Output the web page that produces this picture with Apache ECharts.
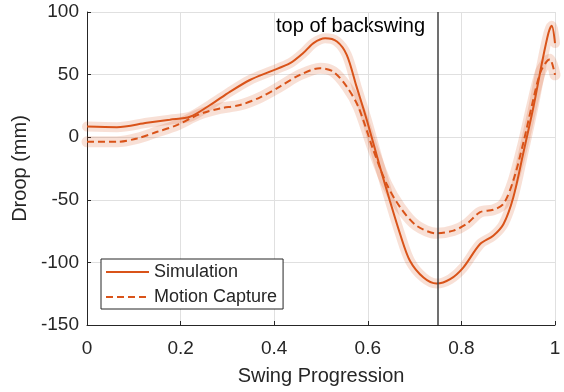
<!DOCTYPE html>
<html>
<head>
<meta charset="utf-8">
<script src="https://cdn.jsdelivr.net/npm/echarts@6/dist/echarts.min.js"></script>
<style>html,body{margin:0;padding:0;background:#fff}#c{width:564px;height:392px}</style>
</head>
<body>
<div id="c"></div>
<script>
const simX = [0, 0.064, 0.128, 0.177, 0.22, 0.263, 0.306, 0.348, 0.391, 0.434, 0.462, 0.484, 0.509, 0.534, 0.555, 0.576, 0.598, 0.626, 0.647, 0.669, 0.69, 0.719, 0.747, 0.776, 0.804, 0.84, 0.868, 0.89, 0.911, 0.932, 0.954, 0.972, 0.986, 0.993, 1.0];
const simY = [8.5, 8, 11.5, 14, 16.3, 25.7, 36.4, 45.7, 52.4, 59.1, 67.2, 75.2, 79, 76.5, 65.8, 40.4, 13.6, -23.8, -50.6, -77.3, -98.7, -112.1, -116.9, -113.4, -104.1, -85.3, -78.7, -69.3, -47.9, -13.1, 24.3, 59.1, 83.2, 89.1, 75.2];
const mocapX = [0, 0.064, 0.107, 0.15, 0.192, 0.228, 0.249, 0.284, 0.327, 0.37, 0.412, 0.455, 0.498, 0.526, 0.555, 0.58, 0.612, 0.64, 0.669, 0.704, 0.747, 0.783, 0.811, 0.84, 0.868, 0.89, 0.911, 0.932, 0.95, 0.968, 0.982, 0.989, 1.0];
const mocapY = [-3.7, -3.7, -1, 4.3, 9.6, 16.3, 19.5, 23, 25.7, 31.8, 40.4, 49.8, 55.1, 52.4, 40.4, 24, -10.4, -37.2, -55.9, -70.6, -76.8, -74.6, -69.3, -59.9, -58, -53.2, -34.5, -5, 24.3, 51.1, 60.4, 62.3, 49.8];
const seriesNames = ['Simulation', 'Motion Capture'];
const topOfBackswing = 0.746;
const xTicks = [0, 0.2, 0.4, 0.6, 0.8, 1];
const yTicks = [-150, -100, -50, 0, 50, 100];

const pair = (xs, ys) => xs.map((x, i) => [x, ys[i]]);
const orange = '#d95319';
const band = 'rgba(217,83,25,0.18)';
const txt = '#262626';
const font = 'Liberation Sans, Arial, sans-serif';

const chart = echarts.init(document.getElementById('c'), null, {renderer: 'canvas'});
chart.setOption({
  animation: false,
  backgroundColor: '#fff',
  grid: {left: 87, right: 9, top: 12, bottom: 67, containLabel: false},
  xAxis: {
    type: 'value', min: xTicks[0], max: xTicks[xTicks.length - 1], interval: 0.2,
    name: 'Swing Progression', nameLocation: 'middle', nameGap: 41,
    nameTextStyle: {fontSize: 20, color: txt, fontFamily: font},
    axisLine: {show: true, onZero: false, lineStyle: {color: txt, width: 1}},
    axisTick: {show: true, inside: true, length: 4, lineStyle: {color: txt}},
    axisLabel: {fontSize: 19, color: txt, fontFamily: font, margin: 14,
      formatter: v => String(Math.round(v * 10) / 10)},
    splitLine: {show: true, lineStyle: {color: '#e0e0e0', width: 1}}
  },
  yAxis: {
    type: 'value', min: yTicks[0], max: yTicks[yTicks.length - 1], interval: 50,
    name: 'Droop (mm)', nameLocation: 'middle', nameGap: 49, nameRotate: 90,
    nameTextStyle: {fontSize: 20, color: txt, fontFamily: font},
    axisLine: {show: true, onZero: false, lineStyle: {color: txt, width: 1}},
    axisTick: {show: true, inside: true, length: 4, lineStyle: {color: txt}},
    axisLabel: {fontSize: 19, color: txt, fontFamily: font, margin: 8},
    splitLine: {show: true, lineStyle: {color: '#e0e0e0', width: 1}}
  },
  legend: {
    data: seriesNames,
    orient: 'vertical', left: 101, top: 259,
    itemWidth: 43, itemHeight: 14, itemGap: 7,
    padding: [4, 6, 3, 4],
    itemStyle: {opacity: 0},
    borderColor: txt, borderWidth: 1, backgroundColor: '#fff',
    textStyle: {fontSize: 18, color: txt, fontFamily: font}
  },
  graphic: [{
    type: 'text', right: 564 - 425, top: 16,
    style: {text: 'top of backswing', fontSize: 20, fill: '#000', fontFamily: font}
  }],
  series: [
    {type: 'line', name: 'simBand', data: pair(simX, simY), smooth: 0.3, symbol: 'none', silent: true,
      lineStyle: {color: band, width: 10, cap: 'round', join: 'round'}, z: 1},
    {type: 'line', name: 'mocapBand', data: pair(mocapX, mocapY), smooth: 0.3, symbol: 'none', silent: true,
      lineStyle: {color: band, width: 11, cap: 'round', join: 'round'}, z: 1},
    {type: 'line', name: seriesNames[0], data: pair(simX, simY), smooth: 0.3, symbol: 'none',
      itemStyle: {color: orange},
      lineStyle: {color: orange, width: 2}, z: 3,
      markLine: {silent: true, symbol: 'none', label: {show: false},
        lineStyle: {color: '#404040', width: 1.5, type: 'solid'},
        data: [{xAxis: topOfBackswing}]}},
    {type: 'line', name: seriesNames[1], data: pair(mocapX, mocapY), smooth: 0.3, symbol: 'none',
      itemStyle: {color: orange},
      lineStyle: {color: orange, width: 2, type: [7, 4]}, z: 3}
  ]
});
</script>
</body>
</html>
